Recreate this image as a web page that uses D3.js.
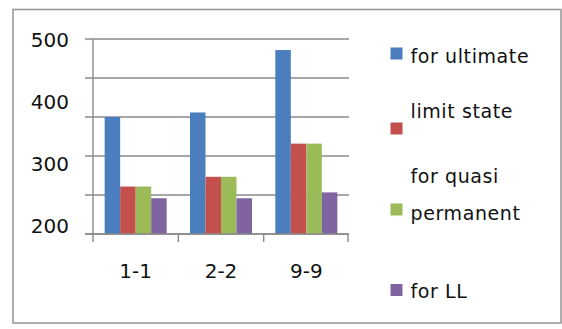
<!DOCTYPE html>
<html>
<head>
<meta charset="utf-8">
<script src="https://cdn.jsdelivr.net/npm/d3@7"></script>
<style>
  html, body { margin: 0; padding: 0; background: #fff; }
  svg { display: block; }
  text { font-family: "DejaVu Sans", Verdana, sans-serif; fill: #111; }
</style>
</head>
<body>
<svg id="chart" width="562" height="329"></svg>
<script>
// Sections along the x axis
const categories = ["1-1", "2-2", "9-9"];
// Values per section for each series
const ultimate = [380, 387, 483];
const limitState = [273, 288, 339];
const quasiPermanent = [273, 288, 339];
const liveLoad = [255, 255, 264];
// Axis labels and gridline values
const yTickLabels = [200, 300, 400, 500];
const yGridValues = [200, 260, 320, 380, 440, 500];

const series = [
  { key: "ultimate", values: ultimate, color: "#4a7ebf" },
  { key: "limitState", values: limitState, color: "#c4504d" },
  { key: "quasiPermanent", values: quasiPermanent, color: "#9bbb59" },
  { key: "liveLoad", values: liveLoad, color: "#8064a2" }
];

const svg = d3.select("#chart");

// Outer frame
svg.append("rect")
  .attr("x", 13).attr("y", 9.5)
  .attr("width", 548).attr("height", 313.5)
  .attr("fill", "#fff")
  .attr("stroke", "#9a9a9a").attr("stroke-width", 1.6);

const plot = { left: 93, right: 349, top: 39, bottom: 234 };

const x0 = d3.scaleBand()
  .domain(categories)
  .range([plot.left, plot.right])
  .paddingInner(0.273)
  .paddingOuter(0.1365);

const x1 = d3.scaleBand()
  .domain(series.map(s => s.key))
  .range([0, x0.bandwidth()]);

const y = d3.scaleLinear().domain([200, 500]).range([plot.bottom, plot.top]);
// the value labels sit on a slightly tighter span than the grid
const yLabel = d3.scaleLinear().domain([200, 500]).range([226, 40]);

// Horizontal gridlines (with their short ticks left of the axis)
svg.append("g")
  .selectAll("line")
  .data(yGridValues)
  .join("line")
  .attr("x1", plot.left - 8).attr("x2", plot.right)
  .attr("y1", d => y(d)).attr("y2", d => y(d))
  .attr("stroke", "#8a8a8a").attr("stroke-width", 1.4);

// Bars
const groups = svg.append("g")
  .selectAll("g")
  .data(categories)
  .join("g")
  .attr("transform", d => `translate(${x0(d)},0)`);

groups.selectAll("rect")
  .data((c, i) => series.map(s => ({ key: s.key, color: s.color, value: s.values[i] })))
  .join("rect")
  .attr("x", d => x1(d.key))
  .attr("width", x1.bandwidth())
  .attr("y", d => y(d.value))
  .attr("height", d => y(200) - y(d.value))
  .attr("fill", d => d.color);

// Y axis line
svg.append("line")
  .attr("x1", plot.left).attr("x2", plot.left)
  .attr("y1", plot.top).attr("y2", plot.bottom)
  .attr("stroke", "#8a8a8a").attr("stroke-width", 1.4);

// X axis line and category boundary ticks
svg.append("line")
  .attr("x1", plot.left - 8).attr("x2", plot.right)
  .attr("y1", plot.bottom).attr("y2", plot.bottom)
  .attr("stroke", "#8a8a8a").attr("stroke-width", 1.4);

const tickXs = [plot.left].concat(
  categories.map(c => x0(c) + x0.bandwidth() + x0.step() * x0.paddingInner() / 2)
);
tickXs[tickXs.length - 1] = plot.right - 1;
svg.append("g")
  .selectAll("line")
  .data(tickXs)
  .join("line")
  .attr("x1", d => d).attr("x2", d => d)
  .attr("y1", plot.bottom).attr("y2", plot.bottom + 8)
  .attr("stroke", "#8a8a8a").attr("stroke-width", 1.4);

// Y labels
svg.append("g")
  .selectAll("text")
  .data(yTickLabels)
  .join("text")
  .attr("x", 69)
  .attr("y", d => yLabel(d))
  .attr("dy", "0.36em")
  .attr("text-anchor", "end")
  .attr("font-size", 20)
  .text(d => d);

// X labels
svg.append("g")
  .selectAll("text")
  .data(categories)
  .join("text")
  .attr("x", d => x0(d) + x0.bandwidth() / 2)
  .attr("y", 278)
  .attr("text-anchor", "middle")
  .attr("font-size", 20)
  .text(d => d);

// Legend: wrapped names with a swatch per series
const legendRows = [
  { color: series[0].color, sy: 47.5, lines: [{ t: "for ultimate", y: 62.5 }] },
  { color: series[1].color, sy: 122.5, lines: [{ t: "limit state", y: 118.3 }] },
  { color: series[2].color, sy: 203.5, lines: [{ t: "for quasi", y: 182.7 }, { t: "permanent", y: 220 }] },
  { color: series[3].color, sy: 284, lines: [{ t: "for LL", y: 298.3 }] }
];

const legend = svg.append("g");
legendRows.forEach(r => {
  legend.append("rect")
    .attr("x", 390.5).attr("y", r.sy)
    .attr("width", 12).attr("height", 12)
    .attr("fill", r.color);
  r.lines.forEach(l => {
    legend.append("text")
      .attr("x", 410.5).attr("y", l.y)
      .attr("font-size", 19)
      .attr("letter-spacing", 0.6)
      .text(l.t);
  });
});
</script>
</body>
</html>
